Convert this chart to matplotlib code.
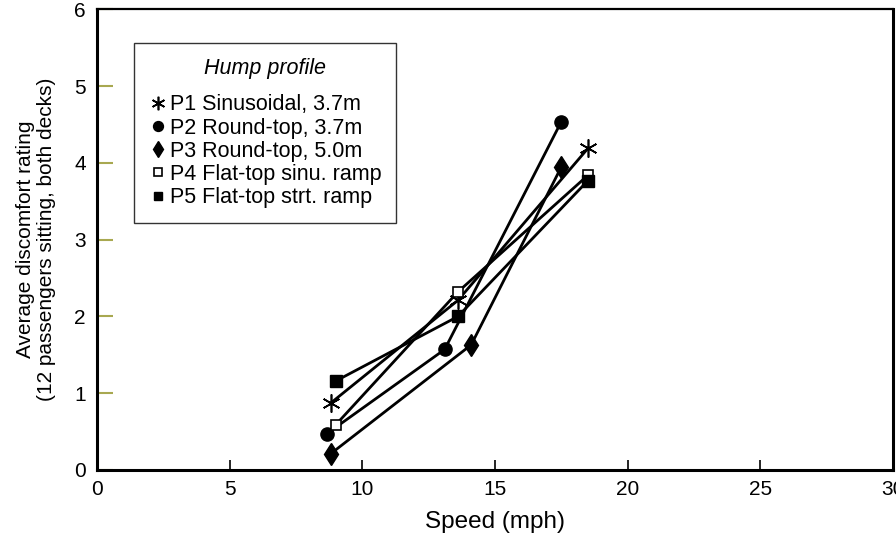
import matplotlib
matplotlib.use("Agg")
import matplotlib.pyplot as plt
from matplotlib.lines import Line2D

plt.rcParams['font.family'] = ['Liberation Sans', 'DejaVu Sans']

# =====================================================
# Data
# =====================================================

p1_speed = [8.8, 13.6, 18.5]
p1_rating = [0.87, 2.21, 4.19]

p2_speed = [8.65, 13.1, 17.5]
p2_rating = [0.47, 1.57, 4.54]

p3_speed = [8.8, 14.1, 17.5]
p3_rating = [0.21, 1.63, 3.95]

p4_speed = [9.0, 13.6, 18.5]
p4_rating = [0.59, 2.32, 3.84]

p5_speed = [9.0, 13.6, 18.5]
p5_rating = [1.16, 2.0, 3.77]

labels = [
    "P1 Sinusoidal, 3.7m",
    "P2 Round-top, 3.7m",
    "P3 Round-top, 5.0m",
    "P4 Flat-top sinu. ramp",
    "P5 Flat-top strt. ramp",
]

x_ticks = [0, 5, 10, 15, 20, 25, 30]
y_ticks = [0, 1, 2, 3, 4, 5, 6]

# =====================================================
# Plot
# =====================================================

fig = plt.figure(figsize=(8.96, 5.38), dpi=100)
ax = fig.add_axes([0.1083, 0.1264, 0.8884, 0.856])

series = [
    (p1_speed, p1_rating, dict(marker=(6, 2, 0), markersize=13, markeredgewidth=1.2,
                               markerfacecolor="black", markeredgecolor="black")),
    (p2_speed, p2_rating, dict(marker="o", markersize=9.5,
                               markerfacecolor="black", markeredgecolor="black")),
    (p3_speed, p3_rating, dict(marker="d", markersize=11.5,
                               markerfacecolor="black", markeredgecolor="black")),
    (p4_speed, p4_rating, dict(marker="s", markersize=7.5, markeredgewidth=1.2,
                               markerfacecolor="white", markeredgecolor="black")),
    (p5_speed, p5_rating, dict(marker="s", markersize=8.5,
                               markerfacecolor="black", markeredgecolor="black")),
]

handles = []
for (xs, ys, style), lab in zip(series, labels):
    ax.plot(xs, ys, color="black", linewidth=2.0, zorder=2, **style)
    handles.append(Line2D([], [], linestyle="none", label=lab, **style))

ax.set_xlim(0, 30)
ax.set_ylim(0, 6)
ax.set_xticks(x_ticks)
ax.set_yticks(y_ticks)

ax.tick_params(axis="x", direction="in", length=7, width=1.2, labelsize=15,
               colors="black", pad=7)
ax.tick_params(axis="y", direction="in", length=11.5, width=1.5, labelsize=15,
               color="#a8a850", labelcolor="black", pad=8)

for side in ["left", "bottom", "right"]:
    ax.spines[side].set_linewidth(2.2)
ax.spines["top"].set_linewidth(1.6)

ax.set_xlabel("Speed (mph)", fontsize=17.5, labelpad=9)
ax.set_ylabel("Average discomfort rating\n(12 passengers sitting, both decks)",
              fontsize=15, labelpad=13, linespacing=1.15)

leg = ax.legend(
    handles=handles,
    title="Hump profile",
    loc="upper left",
    bbox_to_anchor=(0.0465, 0.927),
    borderaxespad=0,
    fontsize=15.5,
    title_fontsize=15.5,
    markerscale=0.75,
    frameon=True,
    fancybox=False,
    edgecolor="black",
    handlelength=0.8,
    handletextpad=0.15,
    labelspacing=0.1,
    borderpad=0.7,
)
leg.get_title().set_fontstyle("italic")
leg.get_frame().set_linewidth(1.0)
leg._legend_box.sep = 11

fig.savefig("out.png", dpi=100)
